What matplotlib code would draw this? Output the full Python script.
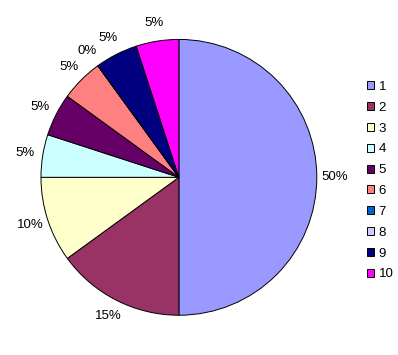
import matplotlib.pyplot as plt

names = ['1', '2', '3', '4', '5', '6', '7', '8', '9', '10']
values = [50, 15, 10, 5, 5, 5, 0, 0, 5, 5]
labels = ['50%', '15%', '10%', '5%', '5%', '5%', '0%', '', '5%', '5%']
colors = ['#9999FF', '#993366', '#FFFFCC', '#CCFFFF', '#660066',
          '#FF8080', '#0066CC', '#CCCCFF', '#000080', '#FF00FF']

plt.rcParams['font.family'] = ['Liberation Sans', 'DejaVu Sans']

fig = plt.figure(figsize=(3.98, 3.55), dpi=100)
ax = fig.add_axes([0.103, 0.112, 0.693, 0.777])
wedges, texts = ax.pie(values, labels=labels, colors=colors, startangle=90,
                       counterclock=False, labeldistance=1.13,
                       wedgeprops={'edgecolor': 'black', 'linewidth': 0.7},
                       textprops={'fontsize': 9.5})
for t in texts:
    t.set_ha('center')
    t.set_va('center')
ax.set_aspect('equal')
ax.set_xlim(-1, 1)
ax.set_ylim(-1, 1)

fig.legend(wedges, names, loc='center left', bbox_to_anchor=(0.905, 0.491),
           frameon=False, fontsize=9.5, handlelength=0.55, handleheight=0.55,
           handletextpad=0.35, labelspacing=0.67, borderpad=0)

fig.savefig('out.png', dpi=100)
